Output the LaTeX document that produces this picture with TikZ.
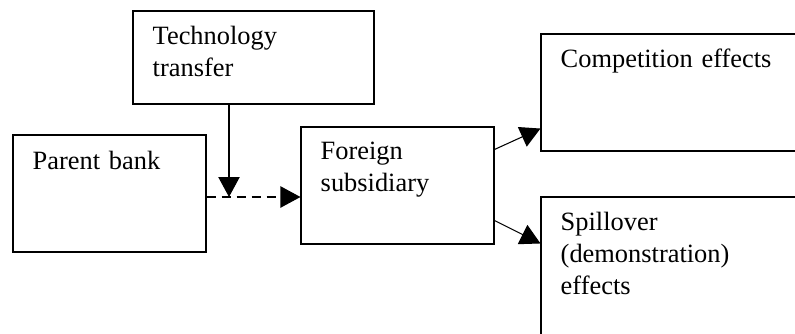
\documentclass[tikz,border=0pt]{standalone}
\usepackage{fontspec}
\setmainfont{Liberation Serif}
\usetikzlibrary{arrows.meta,calc}

\tikzset{
  kasten/.style={draw, line width=0.8pt, inner sep=0pt},
  schrift/.style={anchor=base west, inner sep=0pt, text width=210pt, align=left,
    font=\fontsize{19.8pt}{24pt}\selectfont},
  pfeil/.style={line width=0.8pt, -{Triangle[length=15pt,width=16pt]}},
}

\begin{document}
\begin{tikzpicture}[x=0.75pt,y=-0.75pt]
\useasboundingbox (0,0) rectangle (795,333);
% Kaesten, Mittelpunkte in px, rechts und unten ueber den Rand hinaus
\node[kasten, minimum width=180.75pt, minimum height=69.75pt] (tech) at (253.5,57.5) {};
\node[kasten, minimum width=144.75pt, minimum height=87.75pt] (parent) at (109.5,193.5) {};
\node[kasten, minimum width=144.75pt, minimum height=87.75pt] (foreign) at (397.5,185.5) {};
\node[kasten, minimum width=201.75pt, minimum height=87.75pt] (comp) at (675.5,92.5) {};
\node[kasten, minimum width=201.75pt, minimum height=111pt] (spill) at (675.5,271) {};
% Beschriftungen oben links in den Kaesten
\node[schrift] (techtext) at ($(tech.north west)+(20,34)$) {Technology\\transfer};
\node[schrift] (parenttext) at ($(parent.north west)+(20,35)$) {Parent bank};
\node[schrift] (foreigntext) at ($(foreign.north west)+(20,33)$) {Foreign\\subsidiary};
\node[schrift] (comptext) at ($(comp.north west)+(20,34)$) {Competition effects};
\node[schrift] (spilltext) at ($(spill.north west)+(20,34)$) {Spillover\\(demonstration)\\effects};
% Pfeile
\coordinate (treff) at (229,197);
\draw[pfeil] (tech.south -| treff) -- (treff);
\draw[pfeil, dash pattern=on 6.75pt off 4.5pt] (parent.east |- treff) -- (foreign.west |- treff);
\draw[pfeil] ($(foreign.north east)+(0,23)$) -- ($(comp.south west)+(0,-23)$);
\draw[pfeil] ($(foreign.south east)+(0,-24)$) -- ($(spill.north west)+(0,47)$);
\end{tikzpicture}
\end{document}
